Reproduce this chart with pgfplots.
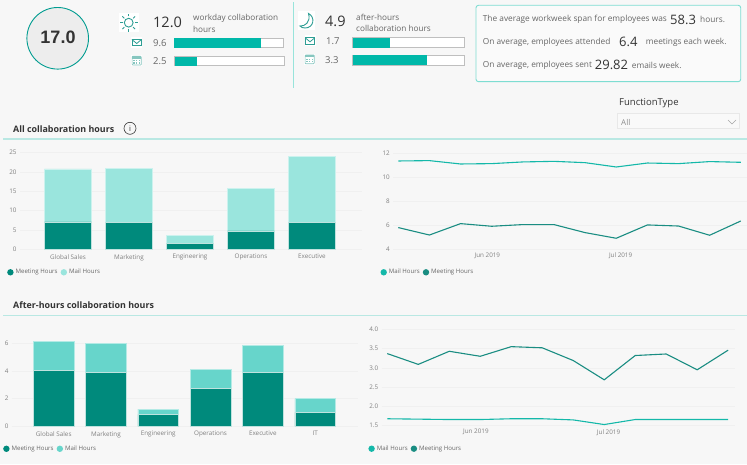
\documentclass[border=0pt]{standalone}
\usepackage{fontspec}
\setmainfont{Open Sans}
\newfontfamily\arialb{Liberation Sans}
\usepackage{pgfplots}
\pgfplotsset{compat=1.18}

\definecolor{bg}{HTML}{F7F7F7}
\definecolor{meet}{HTML}{008A7C}
\definecolor{mailA}{HTML}{9AE5DD}
\definecolor{mailB}{HTML}{67D5CB}
\definecolor{lmail}{HTML}{14B8A9}
\definecolor{lmeet}{HTML}{1A8D82}
\definecolor{kpi}{HTML}{00B8A9}
\definecolor{rule}{HTML}{B9E8E3}
\definecolor{boxc}{HTML}{7EDDD2}
\definecolor{ticktxt}{HTML}{808080}
\definecolor{txt}{HTML}{666666}
\definecolor{dark}{HTML}{333333}
\definecolor{icon}{HTML}{2E9E94}
\definecolor{iconl}{HTML}{86C6BF}

\newcommand{\fs}[1]{\fontsize{#1}{#1}\selectfont}

\pgfplotsset{
  dot legend/.style={legend image code/.code={\fill[##1,draw=none] (0pt,0pt) circle (3.2pt);}},
  dash/.style={
    scale only axis,
    enlargelimits=false,
    axis line style={draw=none},
    tick style={draw=none},
    ymajorgrids,
    major grid style={color=black!6,line width=0.6pt},
    tick label style={font=\fs{6.3},text=ticktxt},
    /pgf/number format/assume math mode=true,
    legend style={draw=none,fill=none,font=\fs{6.1},text=txt,
      legend columns=-1,inner sep=0pt,anchor=west,
      /tikz/every even column/.style={column sep=1pt}},
    legend cell align=left,
  },
  barchart/.style={dash,ybar stacked,bar width=0.776,xtick=data,
    xticklabel style={yshift=-1.5pt}},
  linechart/.style={dash,xtick={2.86,7.14},xticklabels={Jun 2019,Jul 2019},
    xticklabel style={yshift=0pt}},
}

% value bar in the header: x, y (from bottom), width, height, value, max
\newcommand{\kpibar}[6]{%
  \begin{axis}[scale only axis,at={(#1pt,#2pt)},width=#3pt,height=#4pt,
    xmin=0,xmax=#6,ymin=-0.5,ymax=0.5,ticks=none,
    axis background/.style={fill=white},
    axis line style={draw=black!25,line width=0.9pt}]
    \addplot[xbar,bar width=#4pt,fill=kpi,draw=none] coordinates {(#5,0)};
  \end{axis}}

% icons
\newcommand{\mailicon}[2]{%
  \fill[white] (#1-5.5,#2-5.5) rectangle (#1+5.5,#2+5.5);
  \draw[icon,line width=0.8pt] (#1-4.8,#2-3.2) rectangle (#1+4.8,#2+3.2);
  \draw[icon,line width=0.8pt] (#1-4.8,#2-3.2) -- (#1,#2+0.8) -- (#1+4.8,#2-3.2);}
\newcommand{\calicon}[2]{%
  \fill[white] (#1-5.5,#2-5.5) rectangle (#1+5.5,#2+5.5);
  \draw[iconl,line width=0.7pt,rounded corners=0.8pt] (#1-4.6,#2-4.4) rectangle (#1+4.6,#2+4.4);
  \fill[iconl] (#1-4.6,#2-4.4) rectangle (#1+4.6,#2-1.8);
  \foreach \i in {-2.6,0,2.6}{\foreach \j in {0,2.4}{
    \fill[iconl] (#1+\i-0.7,#2+\j-0.7) rectangle (#1+\i+0.7,#2+\j+0.7);}}}

\begin{document}
\begin{tikzpicture}[x=1pt,y=1pt]
\useasboundingbox (0,0) rectangle (747,464);
\fill[bg] (0,0) rectangle (747,464);

% ---- all collaboration hours
\begin{axis}[barchart,at={(20pt,214.7pt)},width=342pt,height=96.6pt,
  xmin=-0.787,xmax=4.82,ymin=0,ymax=25,ytick={0,5,10,15,20,25},
  xticklabels={Global Sales,Marketing,Engineering,Operations,Executive},
  legend style={at={(0,0)},xshift=-13pt,yshift=-23pt}]
\addplot[dot legend,fill=meet,draw=meet!25!white,line width=0.5pt] coordinates {(0,7.07) (1,6.9) (2,1.47) (3,4.8) (4,6.9)};
\addplot[dot legend,fill=mailA,draw=mailA!50!white,line width=0.5pt] coordinates {(0,13.73) (1,14.05) (2,2.13) (3,11.0) (4,17.15)};
\legend{Meeting Hours,Mail Hours}
\end{axis}

\begin{axis}[linechart,at={(393.3pt,214.7pt)},width=353.4pt,height=96pt,
  xmin=-0.16,xmax=11.19,ymin=4,ymax=12,ytick={4,6,8,10,12},
  legend style={at={(0,0)},xshift=-13pt,yshift=-23pt}]
\addplot[dot legend,lmail,line width=1.1pt] coordinates {(0,11.36) (1,11.39) (2,11.11) (3,11.14) (4,11.28) (5,11.33) (6,11.22) (7,10.86) (8,11.19) (9,11.14) (10,11.31) (11,11.25)};
\addplot[dot legend,lmeet,line width=1.1pt] coordinates {(0,5.81) (1,5.19) (2,6.14) (3,5.92) (4,6.06) (5,6.06) (6,5.39) (7,4.92) (8,6.03) (9,5.94) (10,5.17) (11,6.36)};
\legend{Mail Hours,Meeting Hours}
\end{axis}

% ---- after-hours collaboration hours
\begin{axis}[barchart,at={(12pt,37.7pt)},width=346pt,height=88.5pt,
  xmin=-0.797,xmax=5.82,ymin=0,ymax=6.4,ytick={0,2,4,6},
  xticklabels={Global Sales,Marketing,Engineering,Operations,Executive,IT},
  legend style={at={(0,0)},xshift=-9pt,yshift=-22.5pt}]
\addplot[dot legend,fill=meet,draw=meet!25!white,line width=0.5pt] coordinates {(0,4.07) (1,3.9) (2,0.87) (3,2.72) (4,3.88) (5,1.01)};
\addplot[dot legend,fill=mailB,draw=mailB!50!white,line width=0.5pt] coordinates {(0,2.05) (1,2.08) (2,0.38) (3,1.4) (4,1.98) (5,0.99)};
\legend{Meeting Hours,Mail Hours}
\end{axis}

\begin{axis}[linechart,at={(381.7pt,38.3pt)},width=353.3pt,height=96.4pt,
  xmin=-0.18,xmax=11.22,ymin=1.5,ymax=4,ytick={1.5,2,2.5,3,3.5,4},
  yticklabel style={/pgf/number format/.cd,fixed,fixed zerofill,precision=1},
  legend style={at={(0,0)},xshift=-13.5pt,yshift=-23pt}]
\addplot[dot legend,lmail,line width=1.1pt] coordinates {(0,1.68) (1,1.67) (2,1.66) (3,1.66) (4,1.68) (5,1.68) (6,1.65) (7,1.53) (8,1.66) (9,1.66) (10,1.66) (11,1.66)};
\addplot[dot legend,lmeet,line width=1.1pt] coordinates {(0,3.37) (1,3.09) (2,3.43) (3,3.30) (4,3.55) (5,3.52) (6,3.19) (7,2.69) (8,3.32) (9,3.36) (10,2.95) (11,3.46)};
\legend{Mail Hours,Meeting Hours}
\end{axis}

% ---- header value bars
\kpibar{174}{416.3}{109.7}{9.4}{9.6}{12.1}
\kpibar{174.7}{398.3}{109.6}{9}{2.5}{12.5}
\kpibar{352.7}{416.3}{111.6}{10}{1.7}{5.09}
\kpibar{352.7}{398.7}{111.6}{10}{3.3}{4.98}

% ---- dashboard furniture, y counted from the top
\begin{scope}[yshift=464pt,y=-1pt,every node/.style={inner sep=0pt,anchor=west}]
\draw[rule,line width=1.3pt] (3,139) -- (747,139);
\draw[rule,line width=1.3pt] (3,315.7) -- (747,315.7);
\draw[boxc!80!white,line width=0.9pt] (293.5,2.5) -- (293.5,88);

\filldraw[fill=black!7,draw=kpi!85!black,line width=0.9pt] (57.7,38.3) circle (30.8);
\node[anchor=center,font=\arialb\bfseries\fs{18},text=dark] at (58,37.5) {17.0};

% workday
\fill[white] (119,13) rectangle (138.5,32);
\draw[icon,line width=0.9pt] (128.7,22.7) circle (4.4);
\foreach \a in {0,45,...,315}{\draw[icon,line width=0.9pt] (128.7,22.7) ++(\a:6.2) -- ++(\a:2.8);}
\node[font=\fs{14.5},text=dark] at (153,22.7) {12.0};
\node[font=\fs{8.2},text=txt] at (193,18) {workday collaboration};
\node[font=\fs{8.2},text=txt] at (193,29) {hours};
\mailicon{136.7}{42.7}
\calicon{136.7}{60.7}
\node[font=\fs{9.5},text=txt] at (153,43) {9.6};
\node[font=\fs{9.5},text=txt] at (153,61) {2.5};

% after hours
\fill[white] (298,11.5) rectangle (314.5,30);
\draw[icon,line width=0.9pt] (308.5,13.5) .. controls (315.5,17) and (314,28) .. (305,28)
  .. controls (303,28) and (301,27.3) .. (300,26) .. controls (305,26.5) and (311,22) .. cycle;
\node[font=\fs{14.5},text=dark] at (325,21) {4.9};
\node[font=\fs{8.2},text=txt] at (356,17) {after-hours};
\node[font=\fs{8.2},text=txt] at (356,28) {collaboration hours};
\mailicon{310}{41}
\calicon{309.7}{59.3}
\node[font=\fs{9.5},text=txt] at (326,41) {1.7};
\node[font=\fs{9.5},text=txt] at (325,60) {3.3};

% summary box
\draw[boxc,line width=0.9pt,rounded corners=2.5pt,fill=bg!60!white] (476,5.3) rectangle (740.7,81.7);
\node[font=\fs{8.3},text=txt] at (482.7,19.7) {The average workweek span for employees was};
\node[font=\fs{13},text=dark] at (670,19.7) {58.3};
\node[font=\fs{8.3},text=txt] at (700,19.7) {hours.};
\node[font=\fs{8.3},text=txt] at (482.7,42) {On average, employees attended};
\node[font=\fs{13},text=dark] at (619,42) {6.4};
\node[font=\fs{8.3},text=txt] at (645.7,42) {meetings each week.};
\node[font=\fs{8.3},text=txt] at (482.7,65) {On average, employees sent};
\node[font=\fs{13},text=dark] at (594.7,65) {29.82};
\node[font=\fs{8.3},text=txt] at (631.7,65) {emails week.};

% slicer
\node[font=\fs{9.5},text=dark] at (619,103) {FunctionType};
\draw[black!9,line width=0.6pt,fill=bg!70!white] (617.5,113.5) rectangle (739,128);
\node[font=\fs{8},text=black!45] at (621,122) {All};
\draw[black!35,line width=0.5pt] (728,120) -- (732,124) -- (736,120);

% section titles
\node[font=\bfseries\fs{8.9},text=dark] at (13,129) {All collaboration hours};
\draw[dark,line width=0.6pt] (130,128.3) circle (6);
\node[anchor=center,font=\fs{7.5},text=dark] at (130,128.3) {i};
\node[font=\bfseries\fs{8.9},text=dark] at (13,305.5) {After-hours collaboration hours};
\end{scope}
\end{tikzpicture}
\end{document}
